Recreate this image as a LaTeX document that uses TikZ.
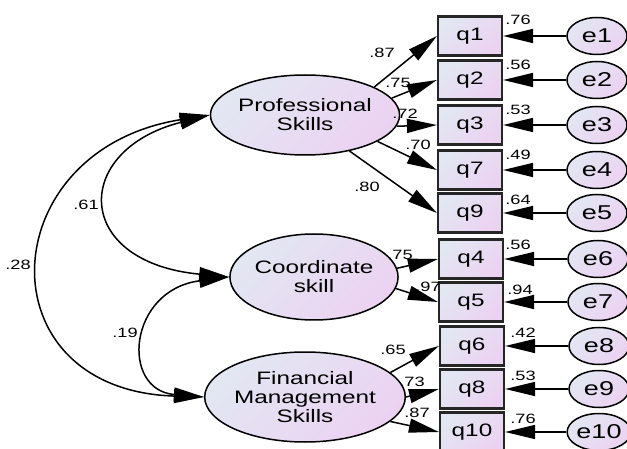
\documentclass[tikz,border=0pt]{standalone}
\usepackage{fontspec}
\usepackage{tikz}
\usetikzlibrary{shapes.geometric,arrows.meta}

\newfontfamily\amosfont[FakeStretch=1.35]{Liberation Sans}
\definecolor{fillA}{RGB}{226,231,242}
\definecolor{fillB}{RGB}{236,210,242}

\tikzset{
	shade/.style={top color=fillA, bottom color=fillB, shading angle=45},
	latent/.style={ellipse, draw, line width=1.5pt, shade, align=center, inner sep=0pt,
		font=\amosfont\fontsize{18}{19}\selectfont},
	item/.style={rectangle, draw=black!85, line width=2.2pt, shade, minimum width=64pt,
		minimum height=39pt, font=\amosfont\fontsize{18}{19}\selectfont},
	err/.style={ellipse, draw, line width=1.5pt, shade, minimum width=60pt, minimum height=37pt,
		inner sep=0pt, font=\amosfont\fontsize{20}{21}\selectfont},
	coef/.style={font=\amosfont\fontsize{13.5}{14}\selectfont, inner sep=0pt},
	load/.style={-{Triangle[length=30pt,width=14pt]}, line width=1.5pt},
	cov/.style={{Triangle[length=30pt,width=14pt]}-{Triangle[length=30pt,width=14pt]}, line width=1.5pt}
}

\begin{document}
\begin{tikzpicture}[x=1pt,y=-1pt]

	\useasboundingbox (0,0) rectangle (627,449);

	% latent variables
	\node[latent, minimum width=164pt, minimum height=80pt] (ps) at (305,115) {Professional\\Skills};
	\node[latent, minimum width=160pt, minimum height=86pt] (cs) at (314,277) {Coordinate\\skill};
	\node[latent, minimum width=166pt, minimum height=90pt] (fm) at (305,397) {Financial\\Management\\Skills};

	% observed items
	\node[item] (q1) at (470,36) {q1};
	\node[item] (q2) at (470,80) {q2};
	\node[item] (q3) at (470,125) {q3};
	\node[item] (q7) at (470,170) {q7};
	\node[item] (q9) at (470,213) {q9};
	\node[item] (q4) at (471,259) {q4};
	\node[item] (q5) at (471,302) {q5};
	\node[item] (q6) at (472,346) {q6};
	\node[item] (q8) at (472,389) {q8};
	\node[item] (q10) at (472,432) {q10};

	% errors
	\node[err] (e1) at (597,36) {e1};
	\node[err] (e2) at (597,80) {e2};
	\node[err] (e3) at (597,125) {e3};
	\node[err] (e4) at (597,170) {e4};
	\node[err] (e5) at (597,213) {e5};
	\node[err] (e6) at (598,259) {e6};
	\node[err] (e7) at (598,302) {e7};
	\node[err] (e8) at (599,346) {e8};
	\node[err] (e9) at (599,389) {e9};
	\node[err] (e10) at (599,432) {e10};

	% loadings
	\draw[load] (ps.22) -- (q1.west);
	\draw[load] (ps.11) -- (q2.west);
	\draw[load] (ps.-7) -- (q3.west);
	\draw[load] (ps.-20) -- (q7.west);
	\draw[load] (ps.-39) -- (q9.west);
	\draw[load] (cs.6) -- (q4.west);
	\draw[load] (cs.-8) -- (q5.west);
	\draw[load] (fm.16) -- (q6.west);
	\draw[load] (fm.0) -- (q8.west);
	\draw[load] (fm.-16) -- (q10.west);

	\node[coef] (l1) at (382,53) {.87};
	\node[coef] (l2) at (398,83) {.75};
	\node[coef] (l3) at (405,114) {.72};
	\node[coef] (l7) at (418,145) {.70};
	\node[coef] (l9) at (367,187) {.80};
	\node[coef] (l4) at (400,255) {.75};
	\node[coef] (l5) at (428,287) {.97};
	\node[coef] (l6) at (393,350) {.65};
	\node[coef] (l8) at (412,382) {.73};
	\node[coef] (l10) at (417,413) {.87};

	% error paths
	\draw[load] (e1) -- (q1);
	\draw[load] (e2) -- (q2);
	\draw[load] (e3) -- (q3);
	\draw[load] (e4) -- (q7);
	\draw[load] (e5) -- (q9);
	\draw[load] (e6) -- (q4);
	\draw[load] (e7) -- (q5);
	\draw[load] (e8) -- (q6);
	\draw[load] (e9) -- (q8);
	\draw[load] (e10) -- (q10);

	\node[coef] (r1) at (518,20) {.76};
	\node[coef] (r2) at (518,65) {.56};
	\node[coef] (r3) at (518,110) {.53};
	\node[coef] (r7) at (518,155) {.49};
	\node[coef] (r9) at (518,200) {.64};
	\node[coef] (r4) at (518,245) {.56};
	\node[coef] (r5) at (520,290) {.94};
	\node[coef] (r6) at (523,333) {.42};
	\node[coef] (r8) at (523,376) {.53};
	\node[coef] (r10) at (523,419) {.76};

	% covariances
	\draw[cov] (ps.west) .. controls (72,150) and (72,262) .. (cs.west);
	\draw[cov] (ps.west) .. controls (-8,150) and (-18,390) .. (fm.west);
	\draw[cov] (cs.west) .. controls (128,290) and (120,390) .. (fm.west);

	\node[coef] (c61) at (86,205) {.61};
	\node[coef] (c28) at (18,265) {.28};
	\node[coef] (c19) at (125,333) {.19};

\end{tikzpicture}
\end{document}
